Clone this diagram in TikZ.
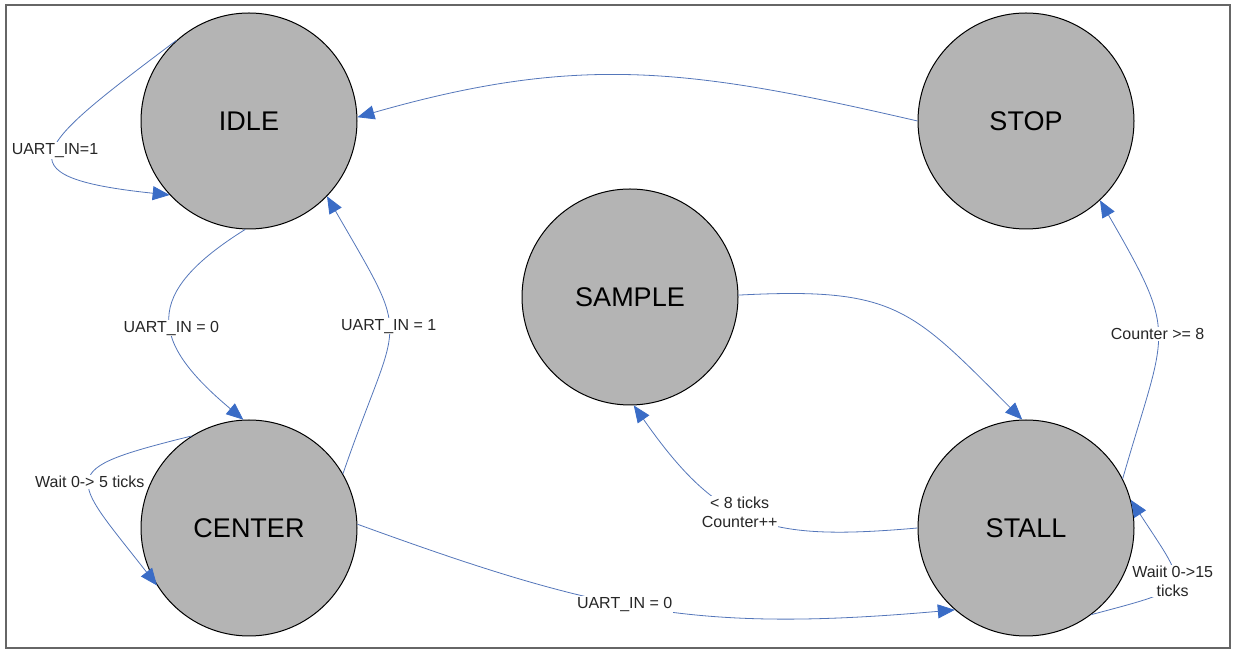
\documentclass[tikz,border=0pt]{standalone}
\usepackage{fontspec}
\setmainfont{Liberation Sans}
\usepackage{tikz}
\usetikzlibrary{shapes,arrows.meta,positioning,calc}
\definecolor{linkblue}{RGB}{84,118,186}
\definecolor{tipblue}{RGB}{58,108,198}
\definecolor{stategray}{RGB}{180,180,180}
\tikzset{
state/.style = {draw, fill=stategray, circle, line width=1pt, minimum size=216pt, inner sep=0pt, font=\fontsize{27}{30}\selectfont},
trans/.style = {draw=linkblue, line width=0.8pt, -{Triangle[length=17pt,width=14pt,color=tipblue]}},
cond/.style  = {fill=white, inner sep=1pt, text=black!85, font=\fontsize{16}{19}\selectfont},
frame/.style = {draw=black!60, line width=2pt}
}
\begin{document}
\begin{tikzpicture}[x=1pt, y=1pt, node distance=407pt]
        \useasboundingbox (0,0) rectangle (1240,650);
        \draw [frame] (6,2) rectangle (1230,645);
        \node [state] (idle) at (249,529) {IDLE};
        \node [state, below of=idle] (center) {CENTER};
        \node [state, right of=idle, node distance=777pt] (stop) {STOP};
        \node [state, below of=stop] (stall) {STALL};
        \node [state] (sample) at (630,353) {SAMPLE};
        \draw [trans] (idle.132) to[out=217, in=174, looseness=2.9] node[cond]{UART\_IN=1} (idle.223);
        \draw [trans] (idle.268) to[out=212, in=140, looseness=1.64] node[cond, pos=0.55]{UART\_IN = 0} (center.93);
        \draw [trans] (center.30) to[out=71, in=300, looseness=1.6] node[cond, pos=0.52]{UART\_IN = 1} (idle.316);
        \draw [trans] (center.122) to[out=194, in=128, looseness=2.37] node[cond]{Wait 0-> 5 ticks} (center.212);
        \draw [trans] (center.2) to[out=-20, in=185, looseness=1.1] node[cond, pos=0.45]{UART\_IN = 0} (stall.229);
        \draw [trans] (stall.180) to[out=185, in=305, looseness=1.24] node[cond, align=center, pos=0.55]{< 8 ticks\\Counter++} (sample.272);
        \draw [trans] (sample.1) to[out=3, in=135, looseness=1.3] (stall.92);
        \draw [trans] (stall.27) to[out=74, in=300, looseness=1.46] node[cond]{Counter >= 8} (stop.313);
        \draw [trans] (stall.307) to[out=15, in=303, looseness=2.3] node[cond, align=center]{Waiit 0->15\\ticks} (stall.15);
        \draw [trans] (stop.180) to[out=167, in=16, looseness=1.06] (idle.2);
\end{tikzpicture}
\end{document}
